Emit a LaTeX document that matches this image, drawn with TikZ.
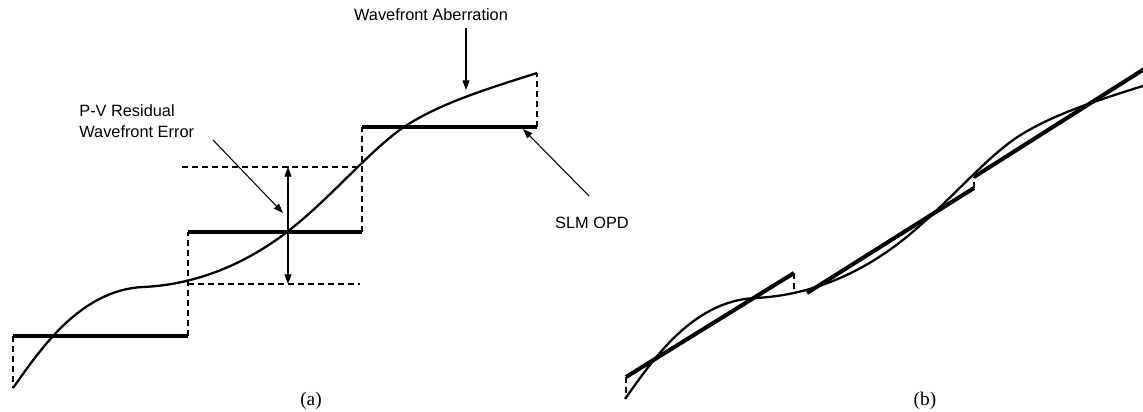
\documentclass[tikz,border=0pt]{standalone}
\usepackage{fontspec}
\setmainfont{Liberation Serif}
\newfontfamily\lblfont{Liberation Sans}
\usetikzlibrary{arrows.meta}

\begin{document}
\begin{tikzpicture}[
  x=0.02cm, y=-0.02cm,
  opd/.style     = {line width=2.3pt, line cap=butt},
  wave/.style    = {line width=1.3pt, line join=round},
  guide/.style   = {line width=0.6pt, dash pattern=on 3.4pt off 2.3pt},
  pointer/.style = {line width=0.6pt, -{Triangle[length=5.5pt, width=4pt]}},
  both/.style    = {line width=0.6pt, {Triangle[length=5.5pt, width=4pt]}-{Triangle[length=5.5pt, width=4pt]}},
  lbl/.style     = {font=\lblfont\fontsize{9.3}{12}\selectfont, inner sep=0pt},
  panel/.style   = {font=\fontsize{11}{13}\selectfont, inner sep=0pt},
]
\useasboundingbox (0,0) rectangle (1143,412);

% ── Wavefront aberration (same curve in both panels) ──────────────────────────
\def\wavepath{(13,388) .. controls (40,350) and (80,290) .. (143,287)
  .. controls (190,285) and (240,268) .. (287,232)
  .. controls (330,199) and (370,150) .. (404,127)
  .. controls (440,103) and (490,88) .. (537,73)}

% ── (a) piston-only SLM OPD ───────────────────────────────────────────────────
\coordinate (s1a) at (13,336);  \coordinate (s1b) at (188,336);
\coordinate (s2a) at (188,232); \coordinate (s2b) at (362,232);
\coordinate (s3a) at (362,127); \coordinate (s3b) at (537,127);
\coordinate (w0)  at (13,388);  \coordinate (w1)  at (537,73);

\draw[guide] (s1a) -- (w0);
\draw[guide] (s1b) -- (s2a);
\draw[guide] (s2b) -- (s3a);
\draw[guide] (s3b) -- (w1);

\draw[wave] \wavepath;

\draw[opd] (s1a) -- (s1b);
\draw[opd] (s2a) -- (s2b);
\draw[opd] (s3a) -- (s3b);

% P-V band
\coordinate (pv-top) at (288,167);
\coordinate (pv-bot) at (288,284);
\draw[guide] (182,167) -- (pv-top) -- (362,167);
\draw[guide] (188,284) -- (pv-bot) -- (360,284);
\draw[both] (pv-top) -- (pv-bot);

% ── Labels (a) ────────────────────────────────────────────────────────────────
\node[lbl] (wa) at (431,15) {Wavefront Aberration};
\node[lbl, anchor=west, align=left] (pv) at (79,121) {P-V Residual\\Wavefront Error};
\node[lbl] (slm) at (592,223) {SLM OPD};

\coordinate (wa-tail)  at (466,28);  \coordinate (wa-tip)  at (466,90);
\coordinate (pv-tail)  at (213,140); \coordinate (pv-tip)  at (283,213);
\coordinate (slm-tail) at (589,196); \coordinate (slm-tip) at (523,129);
\draw[pointer] (wa-tail)  -- (wa-tip);
\draw[pointer] (pv-tail)  -- (pv-tip);
\draw[pointer] (slm-tail) -- (slm-tip);

\node[panel] (capa) at (311,401) {(a)};

% ── (b) tip-tilt SLM OPD ──────────────────────────────────────────────────────
\begin{scope}
  \clip (0,0) rectangle (1143,412);
  \coordinate (t1a) at (626,377); \coordinate (t1b) at (794,273);
  \coordinate (t2a) at (807,293); \coordinate (t2b) at (974,188);
  \coordinate (t3a) at (974,177); \coordinate (t3b) at (1160,59);

  \draw[guide] (t1a) -- (626,399);
  \draw[guide] (t1b) -- (794,293);
  \draw[guide] (t2b) -- (t3a);

  \draw[wave, shift={(612,11)}] \wavepath;

  \draw[opd] (t1a) -- (t1b);
  \draw[opd] (t2a) -- (t2b);
  \draw[opd] (t3a) -- (t3b);
\end{scope}

\node[panel] (capb) at (925,401) {(b)};

\end{tikzpicture}
\end{document}
